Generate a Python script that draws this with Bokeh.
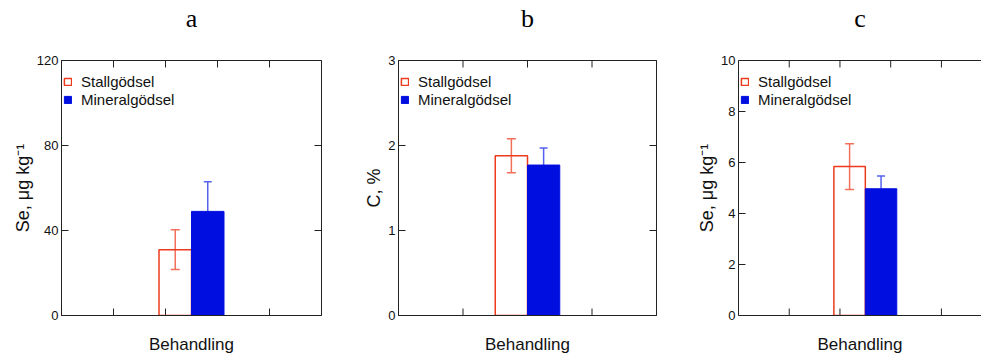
import math
from bokeh.plotting import figure
from bokeh.layouts import row
from bokeh.models import (LinearAxis, FixedTicker, Range1d, Legend, LegendItem, Whisker,
                          ColumnDataSource)
from bokeh.embed import file_html
from bokeh.resources import INLINE

# ---- data ----
panel_titles = ["a", "b", "c"]
y_labels = ["Se, μg kg⁻¹", "C, %", "Se, μg kg⁻¹"]
y_ticks = [[0, 40, 80, 120], [0, 1, 2, 3], [0, 2, 4, 6, 8, 10]]
y_max = [120, 3, 10]
series_names = ["Stallgödsel", "Mineralgödsel"]
stall_values = [31, 1.88, 5.84]
stall_errors = [9.3, 0.2, 0.9]
mineral_values = [49, 1.77, 4.97]
mineral_errors = [14, 0.2, 0.5]
x_label = "Behandling"

SANS = "Liberation Sans"
SERIF = "Liberation Serif"
RED = "#ee3a1c"
RED_ERR = "#f2705a"
BLUE = "#000ee0"
BLUE_ERR = "#5562ee"
AX = "#222222"
H = 356
BT = 60
BB = 39
FH = H - BT - BB

# per panel layout: fig width, border_left, border_right,
#                   x_end, x_ticks, group centre, bar width, closed frame
layouts = [
    (340, 61, 19, 5.0, [1, 2, 3, 4], 2.5, 0.625, True),
    (328, 58, 12, 4.0, [1, 2, 3], 2.0, 0.5, True),
    (313, 70, 0, 4.79, [1, 2, 3, 4], 2.5, 0.62, False),
]


def bare_axis(label, font, size, standoff):
    ax = LinearAxis(ticker=FixedTicker(ticks=[]))
    ax.axis_line_color = AX
    ax.axis_line_width = 1
    ax.major_tick_line_color = None
    ax.minor_tick_line_color = None
    ax.major_tick_out = 0
    ax.major_tick_in = 0
    ax.major_label_standoff = 0
    ax.axis_label = label
    ax.axis_label_text_font = font
    ax.axis_label_text_font_size = size
    ax.axis_label_text_font_style = "normal"
    ax.axis_label_text_color = "#111111"
    ax.axis_label_standoff = standoff
    return ax


figs = []
for i in range(3):
    w, bl, br, xend, xt, center, bw, closed = layouts[i]
    ymax = y_max[i]
    p = figure(width=w, height=H, output_backend="svg", toolbar_location=None,
               x_axis_location=None, y_axis_location=None,
               min_border_left=bl, min_border_right=br, min_border_top=BT, min_border_bottom=BB,
               x_range=Range1d(0, xend), y_range=Range1d(0, ymax))
    p.xgrid.visible = False
    p.ygrid.visible = False
    p.background_fill_color = "white"
    p.border_fill_color = "white"
    p.outline_line_color = AX if closed else None

    top_ax = bare_axis(panel_titles[i], SERIF, "26px", 28)
    top_ax.axis_label_text_color = "black"
    p.add_layout(top_ax, "above")
    p.add_layout(bare_axis(x_label, SANS, "17px", 19), "below")

    yticker = FixedTicker(ticks=y_ticks[i])
    left = LinearAxis(ticker=yticker)
    left.axis_line_color = AX
    left.major_tick_line_color = AX
    left.major_tick_in = 7
    left.major_tick_out = 0
    left.minor_tick_line_color = None
    left.major_label_text_font = SANS
    left.major_label_text_font_size = "13px"
    left.major_label_text_color = "#111111"
    left.major_label_standoff = 3
    left.axis_label = y_labels[i]
    left.axis_label_text_font = SANS
    left.axis_label_text_font_size = "18px"
    left.axis_label_text_font_style = "normal"
    left.axis_label_text_color = "#111111"
    left.axis_label_standoff = 1
    p.add_layout(left, "left")

    # inward ticks on bottom, top and right edges
    n = len(xt)
    p.ray(x=xt, y=[0] * n, length=7, length_units="screen", angle=math.pi / 2,
          line_color=AX, line_width=1)
    p.ray(x=xt, y=[ymax] * n, length=7, length_units="screen", angle=-math.pi / 2,
          line_color=AX, line_width=1)
    if closed:
        m = len(y_ticks[i])
        p.ray(x=[xend] * m, y=y_ticks[i], length=7, length_units="screen", angle=math.pi,
              line_color=AX, line_width=1)

    xs = center - bw / 2
    xm = center + bw / 2
    wr = Whisker(source=ColumnDataSource(data=dict(
        x=[xs], upper=[stall_values[i] + stall_errors[i]], lower=[stall_values[i] - stall_errors[i]])),
        base="x", upper="upper", lower="lower", line_color=RED_ERR, line_width=1.5)
    for h in (wr.upper_head, wr.lower_head):
        h.size = 9
        h.line_color = RED_ERR
        h.line_width = 1.5
    p.add_layout(wr)
    wb = Whisker(source=ColumnDataSource(data=dict(
        x=[xm], upper=[mineral_values[i] + mineral_errors[i]], lower=[mineral_values[i]])),
        base="x", upper="upper", lower="lower", line_color=BLUE_ERR, line_width=1.5)
    wb.upper_head.size = 8
    wb.upper_head.line_color = BLUE_ERR
    wb.upper_head.line_width = 1.5
    wb.lower_head = None
    p.add_layout(wb)

    r1 = p.vbar(x=[xs], top=[stall_values[i]], width=bw, bottom=0,
                fill_color=None, line_color=RED, line_width=1.5)
    r2 = p.vbar(x=[xm], top=[mineral_values[i]], width=bw, bottom=0,
                fill_color=BLUE, line_color=BLUE, line_width=1)

    leg = Legend(items=[LegendItem(label=series_names[0], renderers=[r1]),
                        LegendItem(label=series_names[1], renderers=[r2])],
                 location=(2, FH - 50), orientation="vertical",
                 glyph_width=9, glyph_height=9, label_height=18, spacing=0,
                 padding=7, margin=0, label_standoff=9,
                 label_text_font=SANS, label_text_font_size="15px",
                 label_text_color="#111111",
                 border_line_color=None, background_fill_alpha=0)
    p.add_layout(leg, "center")
    figs.append(p)

layout = row(*figs)
open("out.html", "w").write(file_html(layout, INLINE))
